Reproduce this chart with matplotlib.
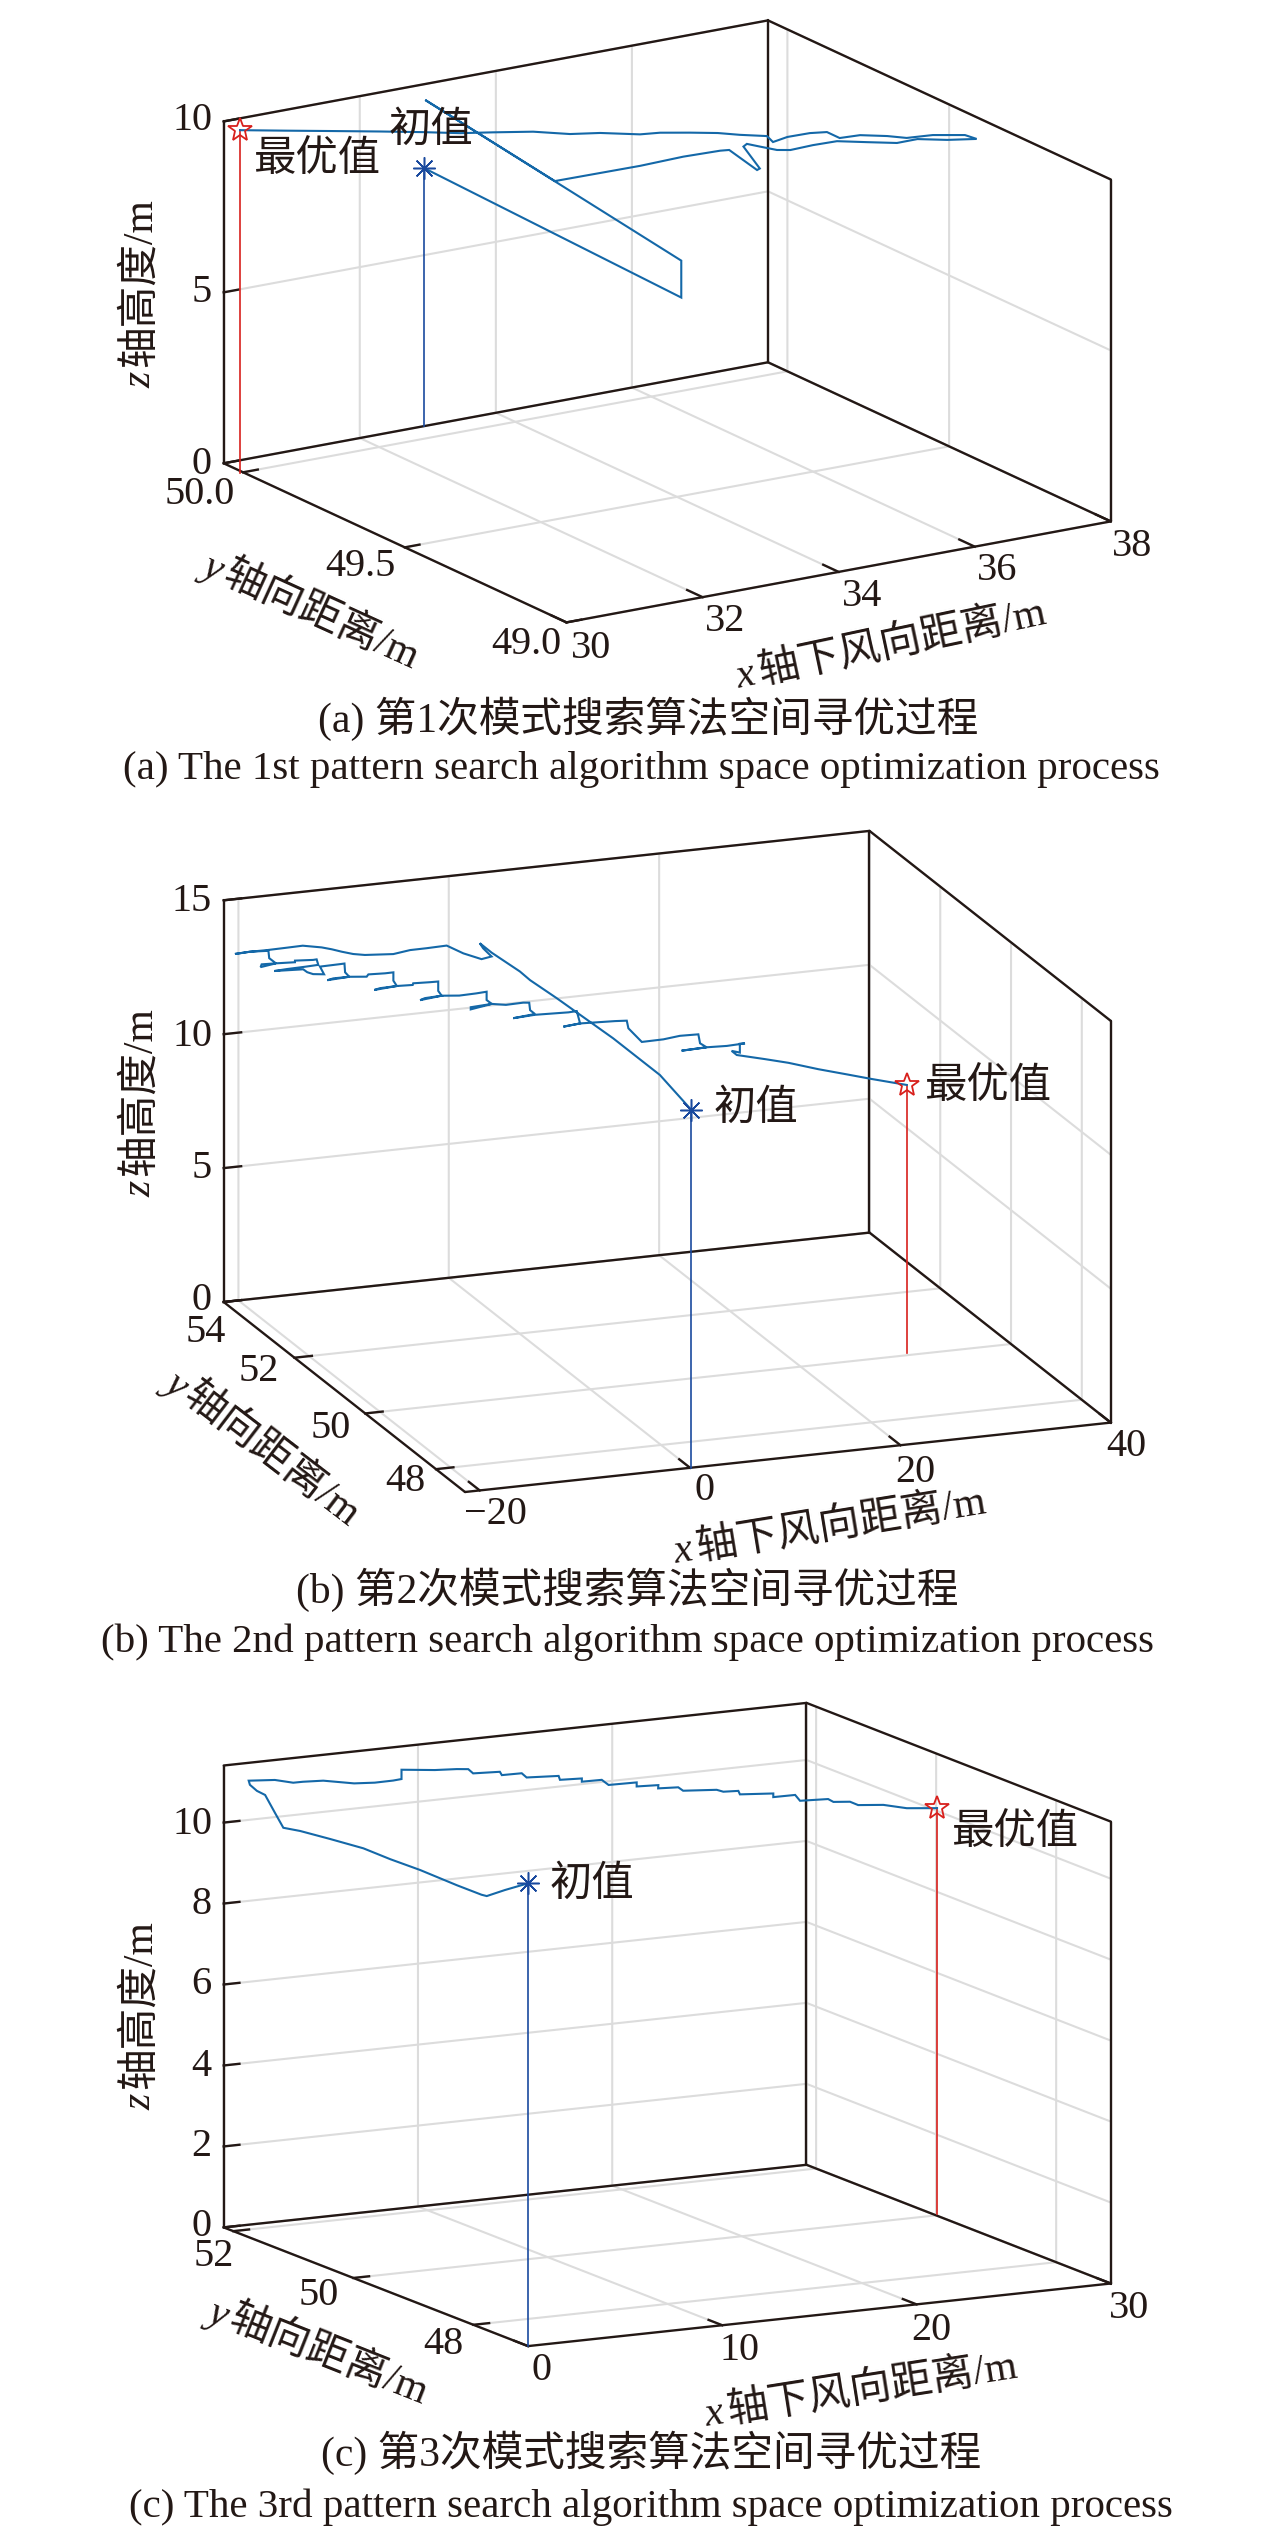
import numpy as np
import matplotlib
matplotlib.use('Agg')
import matplotlib.pyplot as plt
from mpl_toolkits.mplot3d import proj3d

plt.rcParams['font.family'] = ['Liberation Serif', 'Noto Sans CJK SC']

# ---------- data: search paths (x, y, z in metres) ----------
ax_path_x = [32.95,34.71,34.71,32.91,33.86,34.36,34.74,35.03,35.11,35.32,35.36,35.12,35.17,35.31,
             35.48,35.62,35.85,36.1,36.41,36.72,36.93,37.24,37.54,37.42,37.09,36.82,36.62,36.34,36.13,
             36.0,35.82,35.59,35.44,35.38,35.1,34.87,34.59,34.28,34.07,33.66,33.35,32.97,32.56,32.22,
             31.83,31.39,30.88,30.41,29.95]
ax_path_y = [50.06,49.636,49.636,50.049,49.848,49.689,49.636,49.583,49.572,49.53,49.53,49.53,49.53,49.518,
             49.502,49.49,49.469,49.447,49.419,49.392,49.373,49.346,49.318,49.329,49.359,49.383,
             49.401,49.426,49.445,49.457,49.472,49.493,49.506,49.512,49.537,49.557,49.583,49.611,49.629,
             49.666,49.694,49.728,49.765,49.795,49.83,49.869,49.915,49.957,49.999]
ax_path_z = [7.54,4.97,6.05,9.6,7.76,8.72,9.08,9.38,9.42,8.94,8.97,9.7,9.76,9.68,9.59,9.59,9.74,
             9.86,9.84,9.82,9.94,9.92,9.96,10.07,10.06,9.97,10.02,10.04,9.95,10.12,10.09,9.97,9.82,
             9.99,10.02,10.07,10.07,10.06,10.01,10.04,10.0,10.06,10.03,10.0,10.02,10.03,10.03,10.03,
             10.03]

bx_path_x = [0.12,-0.31,-0.95,-1.72,-2.09,-2.22,-2.61,-2.77,-2.52,-1.89,-2.64,-4.03,-5.28,-6.79,
             -8.05,-9.31,-11.44,-12.32,-13.2,-13.95,-14.71,-16.14,-17.47,-18.85,-20.11,-21.24,-20.11,
             -18.73,-19.36,-18.72,-20.08,-20.18,-18.72,-17.18,-17.18,-15.76,-15.49,-15.37,-16.4,-17.82,
             -18.88,-16.53,-16.22,-15.76,-14.92,-15.24,-13.68,-13.35,-13.29,-12.96,-14.2,-14.67,-12.96,
             -11.61,-11.48,-10.19,-9.54,-9.54,-9.28,-10.58,-11.02,-9.28,-8.04,-7.99,-6.69,-6.05,-6.05,
             -5.79,-7.08,-7.47,-5.79,-4.42,-3.12,-2.29,-2.29,-1.9,-3.53,-3.53,-1.9,-0.79,0.55,1.02,
             1.07,1.46,-0.23,1.46,4.05,4.7,4.95,3.66,4.95,7.67,8.58,8.7,9.74,11.42,12.72,14.14,14.27,
             14.79,12.85,14.79,16.35,17.77,17.38,17.38,16.73,17.12,19.32,21.13,23.46,25.66,27.6,30.32]
by_path_y = [47.18,47.94,49.07,50.44,51.08,51.33,52.01,52.3,52.28,52.23,52.29,52.39,52.49,52.61,52.7,
             52.8,52.97,53.04,53.1,53.16,53.22,53.33,53.43,53.54,53.64,53.73,53.64,53.53,53.32,53.32,
             53.32,53.32,53.32,53.24,53.24,53.15,53.13,53.12,53.19,53.28,53.32,53.2,53.18,53.15,53.09,
             53.11,53.01,52.98,52.98,52.96,53.04,53.07,52.96,52.87,52.86,52.77,52.73,52.73,52.71,52.8,
             52.83,52.71,52.63,52.63,52.54,52.5,52.5,52.48,52.57,52.59,52.48,52.39,52.3,52.25,52.25,
             52.22,52.33,52.33,52.22,52.15,52.06,52.03,52.02,52.0,52.11,52.0,51.82,51.78,51.76,51.85,
             51.76,51.58,51.52,51.51,51.44,51.33,51.25,51.15,51.14,51.11,51.24,51.11,51.0,50.91,50.94,
             50.94,50.98,50.95,50.81,50.68,50.53,50.38,50.25,50.07]
bz_path_z = [13.36,13.89,14.11,14.22,14.24,14.31,14.32,14.38,14.2,13.92,13.79,13.96,14.2,14.04,13.93,
             13.73,13.61,13.61,13.67,13.73,13.77,13.78,13.65,13.51,13.4,13.27,13.4,13.49,13.46,13.24,
             13.26,13.16,13.24,13.3,13.36,13.42,13.45,13.25,13.15,13.03,12.96,13.05,12.95,12.89,12.91,
             13.19,13.32,13.36,13.03,12.87,12.78,12.7,12.87,12.91,13.0,13.08,13.13,12.82,12.63,12.51,
             12.43,12.63,12.7,12.76,12.84,12.88,12.53,12.36,12.23,12.15,12.36,12.4,12.52,12.6,12.29,
             12.16,11.99,11.91,12.16,12.15,12.27,12.28,12.01,11.87,11.67,11.84,12.01,12.07,11.62,11.46,
             11.62,11.78,11.82,11.54,11.06,11.2,11.36,11.46,11.13,10.99,10.81,10.99,11.09,11.22,11.19,
             10.86,10.91,10.77,10.67,10.59,10.41,10.28,10.16,10.01]

cx_path_x = [-0.02,0.02,0.04,0.05,0.08,0.13,0.17,0.21,0.25,0.29,0.32,0.33,0.34,0.35,0.36,0.36,1.49,
             2.28,2.69,3.58,4.92,5.83,6.62,6.99,6.99,8.43,9.37,9.87,10.09,11.25,11.32,12.19,12.41,
             13.78,13.85,14.79,14.79,15.66,15.95,17.18,17.18,18.11,18.1,18.98,19.2,20.65,20.93,21.58,
             21.66,23.1,23.1,24.04,24.26,25.49,25.7,26.43,26.79,27.87,28.89,30.2]
cy_path_y = [47.09,47.48,47.79,47.88,48.3,48.93,49.44,49.9,50.47,50.98,51.27,51.41,51.58,51.72,51.84,
             51.86,51.79,51.74,51.71,51.66,51.58,51.53,51.48,51.46,51.46,51.37,51.31,51.28,51.27,51.2,
             51.19,51.14,51.13,51.04,51.04,50.98,50.98,50.93,50.91,50.84,50.84,50.78,50.78,50.73,50.72,
             50.63,50.61,50.57,50.57,50.48,50.48,50.42,50.41,50.34,50.32,50.28,50.26,50.19,50.13,50.05]
cz_path_z = [11.43,11.04,10.71,10.69,10.68,10.69,10.66,10.66,10.56,10.46,10.37,10.65,11.0,11.02,11.1,
             11.19,11.19,11.11,11.13,11.14,11.05,11.05,11.09,11.12,11.35,11.32,11.33,11.32,11.21,11.23,
             11.15,11.18,11.07,11.09,10.99,11.01,10.93,10.96,10.83,10.87,10.77,10.79,10.71,10.72,10.63,
             10.63,10.58,10.59,10.5,10.5,10.41,10.45,10.3,10.32,10.25,10.24,10.15,10.14,10.04,10.02]

panel_titles_cn = ['(a) 第1次模式搜索算法空间寻优过程', '(b) 第2次模式搜索算法空间寻优过程', '(c) 第3次模式搜索算法空间寻优过程']
panel_titles_en = ['(a) The 1st pattern search algorithm space optimization process',
                   '(b) The 2nd pattern search algorithm space optimization process',
                   '(c) The 3rd pattern search algorithm space optimization process']
x_label = ('x', '轴下风向距离/m')
y_label = ('y', '轴向距离/m')
z_label = ('z', '轴高度/m')
start_label = '初值'
best_label = '最优值'

# axis ranges and tick marks
a_lims = ((30, 38), (49, 50.06), (0, 10))
a_xticks = [30, 32, 34, 36, 38]
a_yticks = [49.0, 49.5, 50.0]
a_zticks = [0, 5, 10]
a_xlabels = ['30', '32', '34', '36', '38']
a_ylabels = ['49.0', '49.5', '50.0']
a_zlabels = ['0', '5', '10']

b_lims = ((-21.4, 40), (47.18, 54), (0, 15))
b_xticks = [-20, 0, 20, 40]
b_yticks = [48, 50, 52, 54]
b_zticks = [0, 5, 10, 15]
b_xlabels = ['\u221220', '0', '20', '40']
b_ylabels = ['48', '50', '52', '54']
b_zlabels = ['0', '5', '10', '15']

c_lims = ((0, 30), (47.09, 52.16), (0, 11.41))
c_xticks = [0, 10, 20, 30]
c_yticks = [48, 50, 52]
c_zticks = [0, 2, 4, 6, 8, 10]
c_xlabels = ['0', '10', '20', '30']
c_ylabels = ['48', '50', '52']
c_zlabels = ['0', '2', '4', '6', '8', '10']

# ---------- layout (pixels of the output image) ----------
W, H = 1276, 2534
DARK = '#231815'
PATH = '#1468a8'
START = '#1a4a9e'
BEST = '#d8201c'
GRID = '#dcdcdc'
TICK_FS = 29
LABEL_FS = 30
NOTE_FS = 30.5
CAPTION_FS = 30
CAPTION_EN_FS = 29.5
LABEL_GAP = 4

fig = plt.figure(figsize=(W / 100, H / 100), dpi=100, facecolor='white')


def put(px, py, s, fs=TICK_FS, rot=0, ha='center', **kw):
    return fig.text(px / W, 1 - py / H, s, fontsize=fs, rotation=rot, ha=ha, va='center',
                    rotation_mode='anchor', color=DARK, **kw)


def put_label(px, py, parts, rot):
    """Axis title: an italic letter followed by upright text, centred on (px, py)."""
    letter, rest = parts
    r = fig.canvas.get_renderer()
    widths = []
    for s, kw in ((letter, dict(style='italic', family='Liberation Serif')), (rest, {})):
        t = put(0, 0, s, LABEL_FS, **kw)
        widths.append(t.get_window_extent(r).width)
        t.remove()
    c, sn = np.cos(np.radians(rot)), np.sin(np.radians(rot))
    first = widths[0] + LABEL_GAP
    total = first + widths[1]
    x0, y0 = px - total / 2 * c, py + total / 2 * sn
    put(x0, y0, letter, LABEL_FS, rot, 'left', style='italic', family='Liberation Serif')
    put(x0 + first * c, y0 - first * sn, rest, LABEL_FS, rot, 'left')


def fit_box(ax, LB, front, right, TL):
    LB, front, right, TL = [np.array(p, float) for p in (LB, front, right, TL)]
    Xv, Yv, Zv = right - front, front - LB, TL - LB
    rx, ry = -Xv[1] / Xv[0], Yv[1] / Yv[0]
    sin_e = np.sqrt(rx * ry)
    t = np.sqrt(ry / rx)
    az = -(180 - np.degrees(np.arctan(t)))
    el = np.degrees(np.arcsin(sin_e))
    ax.view_init(elev=el, azim=az, roll=0)
    ar = np.radians(az)
    ax.set_box_aspect((Xv[0] / abs(np.sin(ar)), Yv[0] / abs(np.cos(ar)), -Zv[1] / np.cos(np.radians(el))))
    (x0, x1), (y0, y1), (z0, z1) = ax.get_xlim(), ax.get_ylim(), ax.get_zlim()

    def pix(x, y, z):
        X, Y, _ = proj3d.proj_transform(x, y, z, ax.get_proj())
        return ax.transData.transform((X, Y))

    w = 0.5
    ax.set_position([0.1, 0.1, w, w * W / H])
    ax.apply_aspect()
    scale = Xv[0] / (pix(x1, y0, z0) - pix(x0, y0, z0))[0]
    w *= scale
    ax.set_position([0.1, 0.1, w, w * W / H])
    ax.apply_aspect()
    p = pix(x0, y1, z0)
    dx, dy = (LB[0] - p[0]) / W, ((H - LB[1]) - p[1]) / H
    ax.set_position([0.1 + dx, 0.1 + dy, w, w * W / H])
    ax.apply_aspect()


def panel(lims, xt, yt, zt, px, py, pz, LB, front, right, TL):
    ax = fig.add_axes([0.1, 0.1, 0.5, 0.5], projection='3d', proj_type='ortho')
    ax.patch.set_visible(False)
    ax.computed_zorder = False
    (x0, x1), (y0, y1), (z0, z1) = lims
    # box edges
    edges = [((x0, x1), (y1, y1), (z0, z0)), ((x0, x1), (y0, y0), (z0, z0)),
             ((x0, x0), (y0, y1), (z0, z0)), ((x1, x1), (y0, y1), (z0, z0)),
             ((x0, x0), (y1, y1), (z0, z1)), ((x1, x1), (y1, y1), (z0, z1)),
             ((x1, x1), (y0, y0), (z0, z1)), ((x0, x1), (y1, y1), (z1, z1)),
             ((x1, x1), (y0, y1), (z1, z1))]
    for e in edges:
        ax.plot(*e, color=DARK, lw=1.7, solid_capstyle='round', zorder=2)
    # inward tick marks on the front edges
    dxt, dyt = 0.027 * (x1 - x0), 0.045 * (y1 - y0)
    for v in xt:
        ax.plot((v, v), (y0, y0 + dyt), (z0, z0), color=DARK, lw=1.7, zorder=2)
    for v in yt:
        ax.plot((x0, x0 + dxt), (v, v), (z0, z0), color=DARK, lw=1.7, zorder=2)
    for v in zt:
        ax.plot((x0, x0 + dxt), (y1, y1), (v, v), color=DARK, lw=1.7, zorder=2)
    # stems, path, markers
    ax.plot((px[0], px[0]), (py[0], py[0]), (z0, pz[0]), color=START, lw=1.2, zorder=3)
    ax.plot((px[-1], px[-1]), (py[-1], py[-1]), (z0, pz[-1]), color=BEST, lw=1.2, zorder=3)
    ax.plot(px, py, pz, color=PATH, lw=1.5, solid_joinstyle='miter', zorder=4)
    ax.plot(px[:1], py[:1], pz[:1], ls='none', marker=(8, 2, 0), ms=16, mew=1.1, color=START, zorder=5)
    ax.plot(px[-1:], py[-1:], pz[-1:], ls='none', marker='*', ms=18, mew=1.3, mfc='none', mec=BEST, zorder=5)

    ax.set_xlim(x0, x1, view_margin=0)
    ax.set_ylim(y0, y1, view_margin=0)
    ax.set_zlim(z0, z1, view_margin=0)
    ax.set_xticks(xt)
    ax.set_yticks(yt)
    ax.set_zticks(zt)
    ax.set_xticklabels([])
    ax.set_yticklabels([])
    ax.set_zticklabels([])
    for a in (ax.xaxis, ax.yaxis, ax.zaxis):
        a.set_pane_color((1, 1, 1, 0))
        a.pane.set_edgecolor((1, 1, 1, 0))
        a.line.set_color((1, 1, 1, 0))
        a._axinfo['grid'].update(color=GRID, linewidth=1.5, linestyle='-')
        a._axinfo['tick'].update(inward_factor=0, outward_factor=0)
        a.set_tick_params(color=(1, 1, 1, 0))
    ax.grid(True)
    fit_box(ax, LB, front, right, TL)
    return ax


# ---------- panel a ----------
panel(a_lims, a_xticks, a_yticks, a_zticks, ax_path_x, ax_path_y, ax_path_z,
      (223.7, 463.3), (566.5, 622.4), (1110.8, 521.4), (223.7, 121.4))
for s, p in zip(a_zlabels, [(201.4, 464), (201.4, 292), (192, 121)]):
    put(p[0], p[1], s)
for s, p in zip(a_ylabels, [(526, 644), (360, 566), (200, 494)]):
    put(p[0], p[1], s)
for s, p in zip(a_xlabels, [(591.5, 648), (725.4, 621), (862, 597), (997, 571), (1132, 546)]):
    put(p[0], p[1], s)
put_label(140.6, 293, z_label, 90)
put_label(310, 612, y_label, -24.5)
put_label(891, 645, x_label, 12)
put(431, 132, start_label, NOTE_FS)
put(318, 161, best_label, NOTE_FS)
put(648, 719, panel_titles_cn[0], CAPTION_FS)
put(641, 770, panel_titles_en[0], CAPTION_EN_FS)

# ---------- panel b ----------
panel(b_lims, b_xticks, b_yticks, b_zticks, bx_path_x, by_path_y, bz_path_z,
      (223.7, 1302), (465, 1492), (1110.8, 1422.6), (223.7, 900.3))
for s, p in zip(b_zlabels, [(201.4, 1300.5), (201.4, 1168), (192, 1036), (192, 901.4)]):
    put(p[0], p[1], s)
for s, p in zip(b_ylabels, [(405.6, 1481.5), (331, 1428), (259, 1372), (206, 1333)]):
    put(p[0], p[1], s)
for s, p in zip(b_xlabels, [(495.5, 1515), (704, 1490.6), (915, 1472), (1126, 1447)]):
    put(p[0], p[1], s)
put_label(140.6, 1102, z_label, 90)
put_label(262, 1449, y_label, -37.5)
put_label(830, 1527, x_label, 9.3)
put(756, 1110, start_label, NOTE_FS)
put(989, 1088, best_label, NOTE_FS)
put(627.4, 1590, panel_titles_cn[1], CAPTION_FS)
put(627.4, 1642, panel_titles_en[1], CAPTION_EN_FS)

# ---------- panel c ----------
panel(c_lims, c_xticks, c_yticks, c_zticks, cx_path_x, cy_path_y, cz_path_z,
      (223.7, 2227.4), (528, 2346.1), (1110.8, 2283.5), (223.7, 1765.5))
for s, p in zip(c_zlabels, [(201.4, 2226), (201.4, 2146), (201.4, 2067), (201.4, 1985), (201.4, 1905), (192, 1824)]):
    put(p[0], p[1], s)
for s, p in zip(c_ylabels, [(443.5, 2344.5), (318.4, 2295.5), (213.6, 2257)]):
    put(p[0], p[1], s)
for s, p in zip(c_xlabels, [(541.5, 2370.6), (739, 2350), (931.6, 2331), (1129, 2309)]):
    put(p[0], p[1], s)
put_label(140.6, 2015, z_label, 90)
put_label(317.7, 2352.6, y_label, -21.6)
put_label(860.6, 2391, x_label, 9)
put(591.5, 1886, start_label, NOTE_FS)
put(1016, 1834, best_label, NOTE_FS)
put(651, 2453, panel_titles_cn[2], CAPTION_FS)
put(651, 2507, panel_titles_en[2], CAPTION_EN_FS)

fig.savefig('out.png', dpi=100, facecolor='white')
